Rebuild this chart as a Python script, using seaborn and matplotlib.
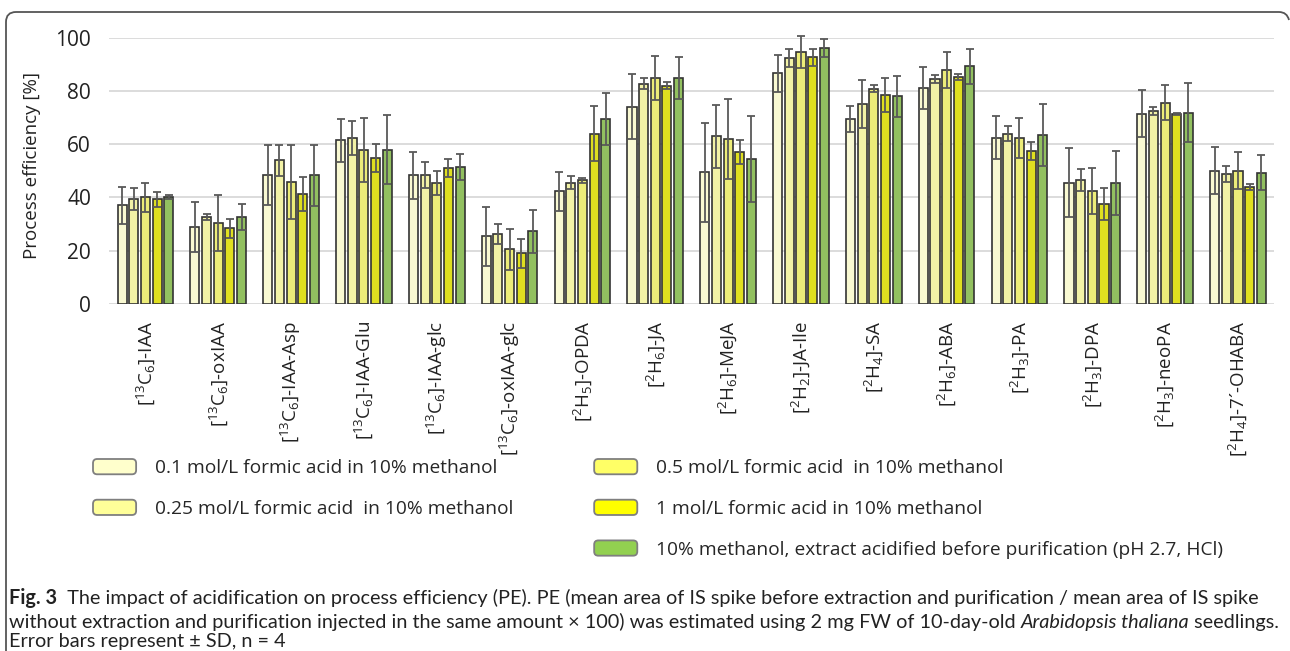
import pandas as pd
import matplotlib
matplotlib.use('Agg')
import matplotlib.pyplot as plt
import seaborn as sns
from matplotlib.patches import Patch, FancyBboxPatch
from matplotlib.legend_handler import HandlerPatch
from matplotlib.path import Path
from matplotlib.patches import PathPatch

compounds = [r'[$^{13}$C$_6$]-IAA', r'[$^{13}$C$_6$]-oxIAA', r'[$^{13}$C$_6$]-IAA-Asp',
             r'[$^{13}$C$_6$]-IAA-Glu', r'[$^{13}$C$_6$]-IAA-glc', r'[$^{13}$C$_6$]-oxIAA-glc',
             r'[$^{2}$H$_5$]-OPDA', r'[$^{2}$H$_6$]-JA', r'[$^{2}$H$_6$]-MeJA',
             r'[$^{2}$H$_2$]-JA-Ile', r'[$^{2}$H$_4$]-SA', r'[$^{2}$H$_6$]-ABA',
             r'[$^{2}$H$_3$]-PA', r'[$^{2}$H$_3$]-DPA', r'[$^{2}$H$_3$]-neoPA',
             r'[$^{2}$H$_4$]-7´-OHABA']

conditions = ['0.1 mol/L formic acid in 10% methanol',
              '0.25 mol/L formic acid  in 10% methanol',
              '0.5 mol/L formic acid  in 10% methanol',
              '1 mol/L formic acid in 10% methanol',
              '10% methanol, extract acidified before purification (pH 2.7, HCl)']
colors = ['#FFFFCC', '#FFFF99', '#FFFF66', '#FFFF00', '#92D050']

# mean process efficiency [%]
pe_01 = [37.1, 28.9, 48.5, 61.5, 48.4, 25.5, 42.4, 74.1, 49.4, 86.6, 69.5, 81.1, 62.5, 45.6, 71.5, 50.1]
pe_025 = [39.4, 32.6, 54.0, 62.3, 48.4, 26.3, 45.5, 82.8, 62.9, 92.4, 75.0, 84.5, 63.9, 46.5, 72.5, 48.9]
pe_05 = [40.1, 30.4, 45.8, 57.8, 45.3, 20.5, 46.5, 84.9, 62.1, 94.6, 80.9, 87.8, 62.5, 42.4, 75.6, 50.1]
pe_1 = [39.4, 28.4, 41.3, 54.8, 51.1, 19.0, 63.9, 81.9, 56.9, 92.6, 78.4, 85.1, 57.4, 37.5, 71.4, 43.8]
pe_hcl = [40.1, 32.6, 48.3, 58.0, 51.3, 27.3, 69.4, 85.0, 54.4, 96.1, 78.0, 89.3, 63.5, 45.4, 71.9, 49.3]

# standard deviations
sd_01 = [7.0, 9.3, 11.3, 8.1, 8.8, 11.1, 7.3, 12.3, 18.5, 7.0, 4.8, 7.8, 8.0, 13.1, 8.8, 8.8]
sd_025 = [4.1, 1.2, 5.8, 6.3, 4.9, 3.8, 2.5, 1.9, 11.8, 3.5, 9.0, 1.4, 2.8, 4.1, 1.4, 2.9]
sd_05 = [5.5, 10.6, 14.0, 12.0, 4.5, 7.8, 0.9, 8.4, 15.0, 6.1, 1.4, 6.8, 7.5, 8.6, 6.5, 7.0]
sd_1 = [2.8, 3.6, 6.3, 5.4, 3.5, 5.4, 10.3, 1.3, 4.5, 3.3, 6.3, 1.1, 3.5, 6.0, 0.3, 1.1]
sd_hcl = [0.7, 4.9, 11.5, 12.8, 4.9, 8.1, 9.8, 7.9, 16.1, 3.3, 7.6, 6.5, 11.6, 11.9, 11.0, 6.6]

means = [pe_01, pe_025, pe_05, pe_1, pe_hcl]
sds = [sd_01, sd_025, sd_05, sd_1, sd_hcl]

rows = []
for cond, vals in zip(conditions, means):
    for comp, v in zip(compounds, vals):
        rows.append({'compound': comp, 'condition': cond, 'pe': v})
df = pd.DataFrame(rows)

sns.set_style('white')
plt.rcParams['font.family'] = ['Open Sans', 'DejaVu Sans']
plt.rcParams['mathtext.fontset'] = 'custom'
plt.rcParams['mathtext.rm'] = 'Open Sans'
plt.rcParams['mathtext.it'] = 'Open Sans:italic'
plt.rcParams['mathtext.bf'] = 'Open Sans:bold'

W, H = 1290, 651
fig = plt.figure(figsize=(W / 100, H / 100), dpi=100)
ax = fig.add_axes([109 / W, 1 - 304 / H, 1165.4 / W, 266.3 / H])

sns.barplot(data=df, x='compound', y='pe', hue='condition', palette=colors,
            errorbar=None, width=0.8, gap=0.22, edgecolor='#333333', linewidth=1.2,
            legend=False, ax=ax)

for cont, sd in zip(ax.containers, sds):
    xs = [b.get_x() + b.get_width() / 2 for b in cont]
    ys = [b.get_height() for b in cont]
    ax.errorbar(xs, ys, yerr=sd, fmt='none', ecolor='#595959', elinewidth=1.3,
                capsize=3, capthick=1.3, zorder=4, clip_on=False)

ax.set_ylim(0, 100)
ax.set_xlim(-0.5, len(compounds) - 0.5)
ax.set_yticks([0, 20, 40, 60, 80, 100])
ax.yaxis.grid(True, color='#d9d9d9', lw=1.3)
ax.set_axisbelow(True)
for s in ax.spines.values():
    s.set_visible(False)
ax.tick_params(axis='y', length=0, pad=13, labelsize=15, labelcolor='#222222')
ax.tick_params(axis='x', length=0, pad=12, labelsize=13.5, labelcolor='#222222')
plt.setp(ax.get_xticklabels(), rotation=90, va='top', ha='center')
ax.set_xlabel('')
ax.set_ylabel('')
fig.text(32 / W, 1 - 166 / H, 'Process efficiency [%]', rotation=90, ha='center',
         va='center', fontsize=13.5, color='#222222')


def round_box(legend, orig_handle, xdescent, ydescent, width, height, fontsize):
    return FancyBboxPatch((-xdescent, -ydescent), width, height,
                          boxstyle='round,pad=0,rounding_size=3')


handles = [Patch(facecolor=c, edgecolor='#7f7f7f', lw=1.3) for c in colors]
blank = Patch(facecolor='none', edgecolor='none')
leg_handles = handles[:2] + [blank] + handles[2:]
leg_labels = conditions[:2] + [''] + conditions[2:]
fig.legend(leg_handles, leg_labels, ncol=2, loc='upper left',
           bbox_to_anchor=(93 / W, 1 - 459 / H), frameon=False, borderpad=0,
           borderaxespad=0, fontsize=13.8, labelspacing=1.17, handlelength=2.25,
           handleheight=0.85, handletextpad=1.0, columnspacing=4.2,
           handler_map={Patch: HandlerPatch(patch_func=round_box)})

# frame around the figure
frame = Path([(6, H), (6, 22), (6, 12), (16, 12), (1279, 12), (1287, 12), (1289, 20)],
             [Path.MOVETO, Path.LINETO, Path.CURVE3, Path.CURVE3, Path.LINETO,
              Path.CURVE3, Path.CURVE3])
over = fig.add_axes([0, 0, 1, 1], zorder=-1)
over.set_xlim(0, W)
over.set_ylim(H, 0)
over.axis('off')
over.add_patch(PathPatch(frame, fill=False, edgecolor='#555555', lw=1.3))

# caption
cap_font = ['Liberation Sans Narrow', 'Lato', 'DejaVu Sans']
cap_size = 14.3
renderer = fig.canvas.get_renderer()


def write_line(y, parts):
    x = 9 / W
    for txt, weight, style in parts:
        t = fig.text(x, 1 - y / H, txt, family=cap_font, fontsize=cap_size,
                     fontweight=weight, fontstyle=style, va='baseline', ha='left',
                     color='#222222')
        bb = t.get_window_extent(renderer)
        x = bb.x1 / W


write_line(604, [('Fig. 3', 'bold', 'normal'),
                 ('  The impact of acidification on process efficiency (PE). PE (mean area of IS spike '
                  'before extraction and purification / mean area of IS spike', 'normal', 'normal')])
write_line(628, [('without extraction and purification injected in the same amount \u00d7 100) was '
                  'estimated using 2 mg FW of 10-day-old ', 'normal', 'normal'),
                 ('Arabidopsis thaliana', 'normal', 'italic'),
                 (' seedlings.', 'normal', 'normal')])
write_line(647, [('Error bars represent \u00b1 SD, n = 4', 'normal', 'normal')])

fig.savefig('out.png', dpi=100)
